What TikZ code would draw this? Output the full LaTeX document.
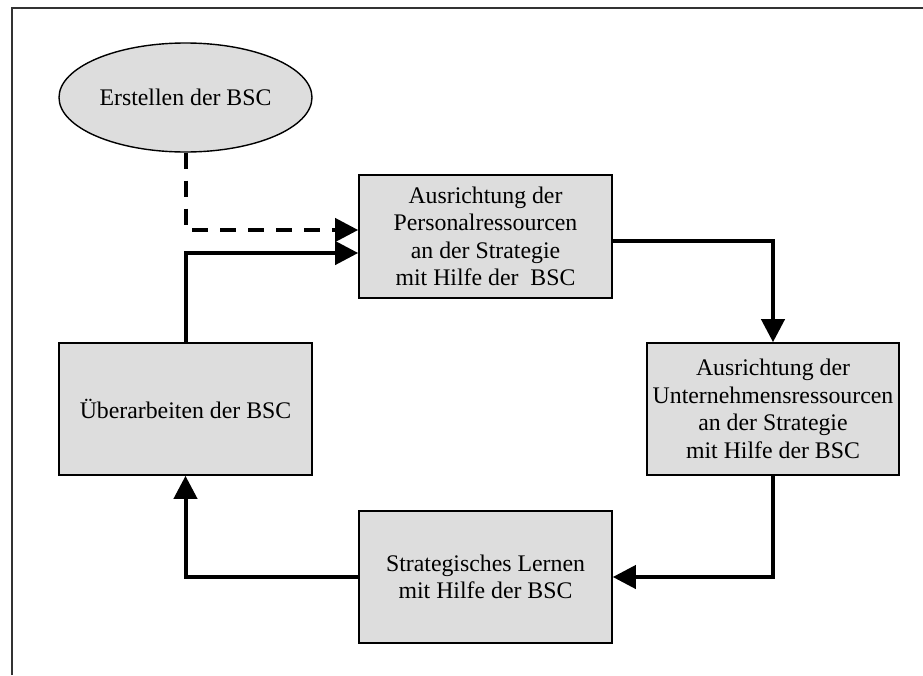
\documentclass[tikz,border=0pt]{standalone}
\usepackage{fontspec}
\setmainfont{Liberation Serif}
\usetikzlibrary{arrows.meta,shapes.geometric,calc}
\definecolor{boxfill}{HTML}{DDDDDD}
\definecolor{framecol}{HTML}{333333}
\begin{document}
\begin{tikzpicture}[x=1pt,y=-1pt,
  every node/.style={font=\fontsize{23.8}{27.5}\selectfont},
  stage/.style={draw=black,line width=1.6pt,fill=boxfill,align=center,
    inner sep=0pt,minimum width=253pt,minimum height=132pt},
  startnode/.style={ellipse,draw=black,line width=1.4pt,fill=boxfill,
    inner sep=0pt,minimum width=253pt,minimum height=109pt},
  flow/.style={line width=4pt,-{Triangle[length=23pt,width=23pt]}},
  dashflow/.style={flow,dash pattern=on 16pt off 12pt}]
  \useasboundingbox (0,0) rectangle (923,675);
  % outer frame (top and left edges)
  \draw[framecol,line width=2pt] (12,675) -- (12,8) -- (923,8);

  % stages of the cycle
  \node[startnode] (start) at (185.5,97.5) {Erstellen der BSC};
  \node[stage,minimum height=123pt] (pers) at (485.5,236.5)
    {Ausrichtung der\\Personalressourcen\\an der Strategie\\mit Hilfe der~ BSC};
  \node[stage,minimum width=252pt] (untern) at (773,409)
    {Ausrichtung der\\Unternehmensressourcen\\an der Strategie\\mit Hilfe der BSC};
  \node[stage] (lernen) at (485.5,577)
    {Strategisches Lernen\\mit Hilfe der BSC};
  \node[stage] (ueber) at (185.5,409) {Überarbeiten der BSC};

  % connectors
  \draw[dashflow] (start.south) |- ($(pers.west)+(0,-6.5)$);
  \draw[flow] (ueber.north) |- ($(pers.west)+(0,16.5)$);
  \draw[flow] ($(pers.east)+(0,4.5)$) -| (untern.north);
  \draw[flow] (untern.south) |- (lernen.east);
  \draw[flow] (lernen.west) -| (ueber.south);
\end{tikzpicture}
\end{document}
